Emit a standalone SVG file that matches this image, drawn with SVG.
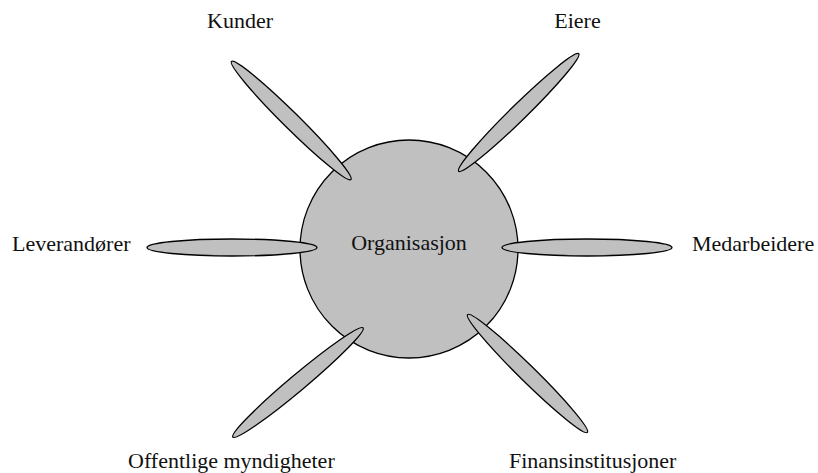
<svg xmlns="http://www.w3.org/2000/svg" width="818" height="473" viewBox="0 0 818 473">
  <style>
    .shape { fill: #c0c0c0; stroke: #000; stroke-width: 1.3; }
    .label { font-family: "Liberation Serif", "Times New Roman", serif; font-size: 22px; fill: #111; }
  </style>
  <rect width="818" height="473" fill="#fff"/>

  <!-- central organisation -->
  <g id="organisasjon">
    <circle class="shape" cx="409" cy="249" r="109"/>
    <text class="label" x="409" y="250" text-anchor="middle">Organisasjon</text>
  </g>

  <!-- spokes linking the organisation to each stakeholder -->
  <g id="connectors">
    <ellipse class="shape" cx="291.2" cy="120.5" rx="84" ry="8" transform="rotate(44.7 291.2 120.5)"/>
    <ellipse class="shape" cx="518.7" cy="112.5" rx="84" ry="8" transform="rotate(-44.4 518.7 112.5)"/>
    <ellipse class="shape" cx="232" cy="247.5" rx="85" ry="8.5"/>
    <ellipse class="shape" cx="587" cy="247.5" rx="85" ry="8.5"/>
    <ellipse class="shape" cx="298" cy="382.5" rx="85" ry="8" transform="rotate(-40 298 382.5)"/>
    <ellipse class="shape" cx="527.5" cy="373.5" rx="84" ry="8" transform="rotate(44.5 527.5 373.5)"/>
  </g>

  <g id="kunder">
    <text class="label" x="240" y="28" text-anchor="middle">Kunder</text>
  </g>
  <g id="eiere">
    <text class="label" x="577.5" y="28" text-anchor="middle">Eiere</text>
  </g>
  <g id="leverandorer">
    <text class="label" x="12" y="251">Leverandører</text>
  </g>
  <g id="medarbeidere">
    <text class="label" x="692" y="251">Medarbeidere</text>
  </g>
  <g id="offentlige-myndigheter">
    <text class="label" x="128" y="468">Offentlige myndigheter</text>
  </g>
  <g id="finansinstitusjoner">
    <text class="label" x="509" y="468">Finansinstitusjoner</text>
  </g>
</svg>
